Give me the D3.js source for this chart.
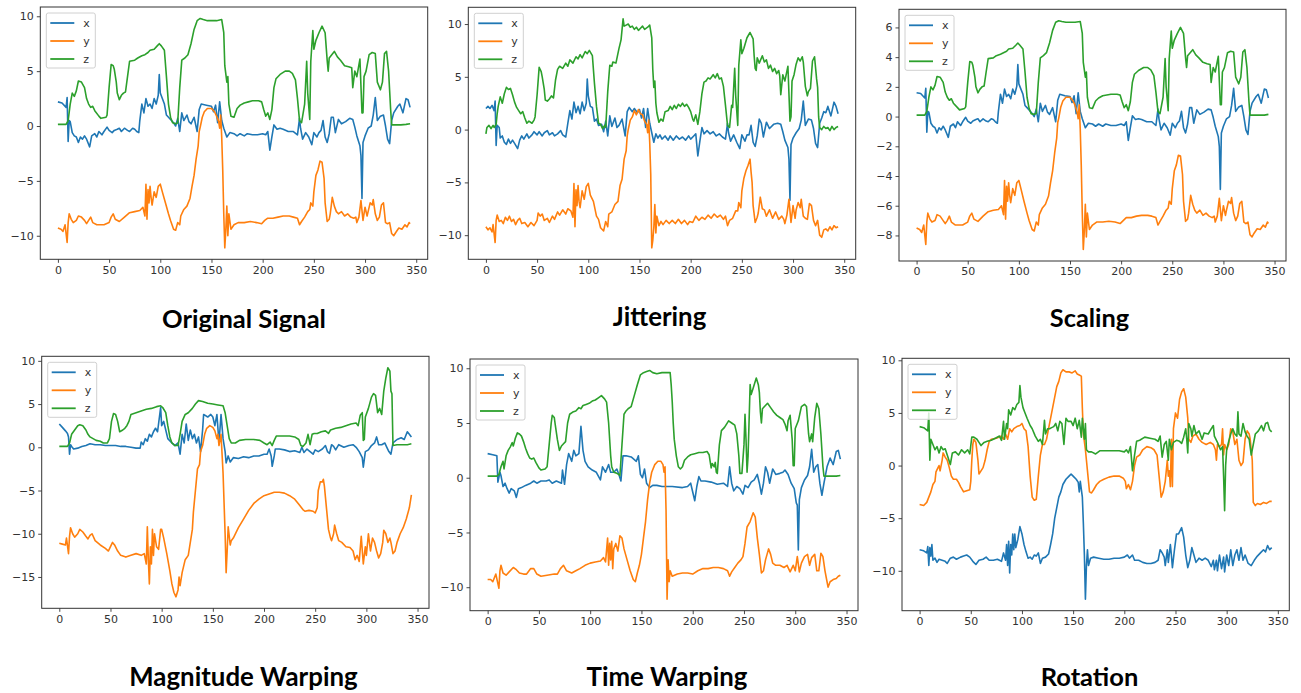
<!DOCTYPE html>
<html>
<head>
<meta charset="utf-8">
<script src="https://cdn.jsdelivr.net/npm/d3@7/dist/d3.min.js"></script>
<style>
  html, body { margin: 0; padding: 0; background: #fff; }
  svg { display: block; }
</style>
</head>
<body>
<div id="chart"></div>
<script>

// Series: [sample index, value] pairs

var seriesNames = [ "x", "y", "z" ];
var panelTitles = [ "Original Signal", "Jittering", "Scaling", "Magnitude Warping", "Time Warping", "Rotation" ];

var xTicks = [ 0, 50, 100, 150, 200, 250, 300, 350 ];
var yTicks = [
    [ -10, -5, 0, 5, 10 ],
    [ -10, -5, 0, 5, 10 ],
    [ -8, -6, -4, -2, 0, 2, 4, 6 ],
    [ -15, -10, -5, 0, 5, 10 ],
    [ -10, -5, 0, 5, 10 ],
    [ -10, -5, 0, 5, 10 ]
];

var origX = [[0,2.2],[4,2.1],[8,1.7],[9,2.6],[10,-1.4],[11,0.5],[12,0.4],[14,-0.6],[16,-0.9],[18,-1.0],[20,-1.5],[22,-1.0],[24,-1.2],[26,-0.9],[28,-1.2],[31,-1.9],[33,-0.9],[36,-0.7],[38,-1.0],[40,-0.5],[43,-0.8],[45,-0.5],[48,-0.1],[50,-0.4],[53,-0.6],[55,-0.4],[58,-0.3],[60,-0.2],[62,-0.5],[65,-0.2],[68,-0.4],[70,-0.5],[73,-0.2],[75,-0.3],[77,-0.5],[79,-0.6],[80,0.5],[82,2.0],[84,1.2],[86,2.5],[88,1.8],[90,2.0],[92,1.6],[94,2.5],[96,2.0],[98,2.8],[99,4.7],[100,3.0],[102,2.5],[104,2.0],[106,1.0],[108,0.8],[110,0.6],[113,0.3],[115,0.0],[117,0.7],[119,-0.5],[121,1.2],[123,0.5],[126,1.0],[128,0.4],[130,0.2],[133,0.8],[136,-0.5],[138,1.5],[140,2.0],[145,1.9],[150,1.8],[152,1.3],[154,1.9],[156,0.3],[158,2.2],[160,0.5],[162,-0.2],[165,-1.0],[168,-0.6],[172,-0.7],[175,-0.9],[178,-0.7],[182,-0.9],[185,-0.7],[190,-0.8],[195,-0.8],[200,-0.7],[203,-0.8],[205,-0.5],[207,-2.2],[209,-1.0],[211,0.1],[214,-0.3],[217,-0.2],[220,-0.3],[225,-0.5],[230,-0.5],[234,-0.8],[236,0.7],[237,-0.2],[239,-1.2],[242,-0.6],[245,-1.0],[248,-1.7],[250,-0.6],[253,-1.0],[255,-0.6],[257,-0.4],[259,0.5],[261,-1.0],[263,-1.5],[265,-0.7],[267,0.8],[269,0.8],[271,-0.6],[274,0.6],[277,0.2],[281,0.4],[285,0.7],[288,0.6],[290,-0.1],[292,-0.9],[295,-1.8],[296,-2.7],[297,-6.6],[298,-1.5],[300,-0.9],[303,-0.2],[306,0.0],[308,1.0],[310,2.6],[312,0.5],[315,0.9],[318,1.0],[320,0.0],[322,-1.2],[324,-1.6],[326,0.5],[328,1.2],[332,1.8],[334,2.0],[337,1.2],[340,2.5],[342,2.4],[344,1.7]];
var origY = [[0,-9.3],[3,-9.4],[5,-9.6],[7,-9.0],[9,-10.6],[10,-8.8],[11,-8.0],[13,-8.5],[15,-8.8],[18,-8.6],[20,-8.2],[23,-8.3],[26,-8.6],[28,-8.9],[30,-8.6],[32,-8.3],[34,-8.8],[38,-9.0],[45,-9.0],[50,-8.8],[52,-8.3],[54,-8.0],[56,-8.5],[60,-8.7],[65,-8.3],[70,-7.9],[75,-7.8],[80,-7.7],[83,-7.4],[85,-8.2],[86,-5.3],[87,-8.5],[88,-5.8],[89,-7.0],[90,-5.5],[91,-6.5],[92,-7.2],[94,-6.0],[96,-6.5],[98,-5.5],[100,-5.3],[102,-6.0],[105,-7.0],[108,-8.0],[110,-8.6],[113,-9.4],[115,-9.5],[117,-8.8],[119,-9.0],[120,-8.2],[123,-7.6],[126,-7.3],[129,-6.6],[131,-5.5],[133,-4.5],[135,-3.0],[137,-1.8],[138,-0.5],[139,-0.1],[141,0.8],[143,1.3],[146,1.6],[150,1.6],[153,1.3],[155,0.9],[157,0.4],[158,-0.2],[159,1.0],[160,-1.0],[161,-4.0],[162,-8.0],[163,-11.1],[164,-9.5],[165,-7.3],[166,-10.0],[167,-8.0],[169,-9.4],[172,-9.0],[176,-8.8],[182,-8.8],[188,-8.7],[194,-8.8],[199,-8.9],[202,-8.6],[205,-8.4],[210,-8.4],[215,-8.3],[220,-8.2],[226,-8.2],[230,-8.3],[234,-8.4],[236,-9.0],[238,-8.7],[241,-8.3],[244,-7.8],[246,-7.6],[247,-7.0],[249,-7.3],[250,-6.0],[252,-4.5],[254,-4.0],[256,-3.2],[258,-3.3],[260,-4.8],[261,-7.0],[263,-8.7],[265,-8.5],[266,-8.0],[268,-6.5],[270,-7.3],[272,-7.8],[274,-8.0],[277,-7.8],[280,-8.2],[283,-8.0],[286,-8.3],[289,-8.4],[291,-8.3],[292,-8.8],[294,-8.3],[296,-6.8],[298,-8.6],[300,-7.4],[302,-8.2],[303,-7.8],[305,-7.0],[307,-7.2],[308,-6.7],[310,-8.0],[312,-8.6],[314,-8.3],[316,-7.2],[318,-7.0],[320,-8.8],[322,-8.9],[324,-8.8],[326,-9.8],[328,-10.0],[330,-9.7],[333,-9.3],[336,-9.4],[339,-9.0],[341,-9.2],[343,-8.8],[344,-8.9]];
var origZ = [[0,0.15],[8,0.15],[10,0.5],[12,2.0],[14,3.0],[16,2.7],[18,3.2],[20,4.1],[23,4.0],[26,3.5],[28,2.5],[30,2.0],[32,1.7],[34,1.8],[36,1.4],[40,0.9],[42,0.7],[47,0.8],[48,1.0],[50,3.5],[52,5.6],[54,5.5],[55,5.2],[57,4.0],[58,3.0],[60,2.4],[62,2.8],[64,3.0],[66,3.1],[68,4.5],[70,5.9],[75,6.0],[78,6.2],[82,6.4],[85,6.5],[88,6.7],[90,6.9],[94,7.0],[97,7.3],[99,7.5],[101,7.3],[104,6.9],[106,4.5],[108,2.0],[110,0.8],[112,0.3],[115,0.2],[117,0.3],[119,3.5],[121,6.0],[124,6.2],[127,6.5],[130,7.5],[133,8.8],[136,9.6],[139,9.8],[142,9.7],[146,9.6],[150,9.6],[155,9.6],[160,9.7],[162,8.5],[163,5.5],[165,4.0],[166,4.5],[167,2.0],[169,0.9],[172,0.8],[175,1.6],[178,1.9],[182,2.1],[186,2.2],[190,2.3],[196,2.3],[199,2.2],[201,1.5],[203,0.9],[205,1.2],[207,0.6],[209,1.5],[211,3.5],[213,4.3],[217,4.7],[222,5.0],[226,5.0],[229,4.8],[232,4.2],[234,2.5],[236,0.5],[238,0.3],[241,2.0],[243,5.9],[244,3.0],[246,0.6],[247,5.9],[249,8.7],[250,7.0],[252,7.8],[255,8.5],[258,9.1],[261,8.5],[263,6.0],[264,5.0],[265,6.2],[270,6.8],[273,6.3],[276,6.0],[280,5.5],[284,5.4],[287,5.3],[288,3.5],[290,5.0],[292,4.5],[295,6.1],[297,1.2],[298,1.2],[299,4.5],[301,5.0],[304,6.5],[307,6.7],[310,6.6],[312,4.0],[315,3.3],[317,4.0],[319,6.6],[321,6.8],[323,5.0],[325,1.5],[326,0.1],[330,0.1],[335,0.1],[340,0.15],[344,0.2]];

var jitX = [[0,2.0],[2,2.2],[4,2.0],[6,2.3],[8,1.8],[9,2.7],[10,-1.5],[11,0.4],[13,0.2],[14,-0.8],[16,-0.6],[18,-1.2],[20,-1.4],[22,-0.9],[24,-1.3],[26,-1.0],[28,-1.3],[31,-1.8],[33,-1.0],[35,-0.6],[37,-0.9],[40,-0.4],[42,-0.8],[45,-0.5],[47,-0.2],[50,-0.5],[52,-0.2],[55,-0.6],[57,-0.3],[60,-0.1],[62,-0.5],[65,-0.3],[67,-0.6],[70,-0.4],[73,-0.1],[75,-0.5],[78,-0.7],[80,0.6],[82,1.8],[84,1.0],[86,2.6],[88,1.6],[90,2.2],[92,1.5],[94,2.6],[96,1.8],[98,2.5],[99,4.8],[100,3.2],[102,2.2],[104,2.1],[106,0.8],[108,1.0],[110,0.4],[113,0.5],[115,-0.2],[117,0.8],[119,-0.6],[121,1.3],[123,0.3],[126,1.1],[128,0.2],[130,0.4],[133,1.0],[136,-0.6],[138,1.7],[140,2.1],[143,1.7],[145,2.0],[148,1.6],[150,1.9],[152,1.1],[154,2.0],[156,0.2],[158,2.0],[160,0.6],[162,-0.3],[164,-1.2],[166,-0.4],[168,-0.8],[170,-0.5],[172,-0.9],[175,-0.6],[178,-1.0],[180,-0.6],[183,-1.0],[186,-0.6],[189,-0.9],[192,-0.7],[195,-1.0],[198,-0.6],[200,-0.9],[203,-0.6],[205,-0.4],[207,-2.5],[209,-1.1],[211,0.2],[213,-0.4],[216,-0.1],[219,-0.4],[222,-0.2],[225,-0.6],[228,-0.4],[231,-0.7],[234,-0.9],[236,0.6],[237,-0.3],[239,-1.1],[242,-0.5],[245,-1.2],[248,-1.8],[250,-0.5],[253,-1.1],[255,-0.5],[257,-0.5],[259,0.4],[261,-1.2],[263,-1.6],[265,-0.6],[267,1.0],[269,0.6],[271,-0.7],[274,0.7],[277,0.1],[281,0.5],[285,0.6],[288,0.5],[290,-0.2],[292,-1.0],[295,-1.7],[296,-2.8],[297,-6.7],[298,-1.4],[300,-0.8],[303,-0.3],[306,0.1],[308,0.9],[310,2.7],[312,0.4],[315,1.0],[318,0.9],[320,0.1],[322,-1.3],[324,-1.7],[326,0.6],[328,1.1],[330,1.7],[332,1.6],[334,2.2],[337,1.3],[340,2.6],[342,2.2],[344,1.5]];
var jitY = [[0,-9.2],[2,-9.5],[4,-9.3],[6,-9.7],[7,-9.0],[9,-10.7],[10,-8.6],[11,-8.1],[13,-8.7],[15,-8.6],[17,-8.9],[19,-8.3],[21,-8.6],[23,-8.2],[25,-8.7],[27,-8.5],[29,-9.0],[31,-8.6],[33,-8.4],[35,-8.9],[38,-8.8],[41,-9.2],[44,-8.8],[47,-9.1],[50,-8.6],[51,-7.9],[53,-8.2],[55,-8.0],[57,-8.6],[60,-8.4],[62,-8.8],[65,-8.2],[67,-8.5],[70,-7.8],[72,-8.1],[75,-7.6],[78,-8.0],[80,-7.5],[83,-7.7],[85,-8.3],[86,-5.1],[87,-9.2],[88,-5.7],[89,-7.2],[90,-5.3],[91,-6.8],[92,-7.4],[94,-5.8],[96,-6.6],[98,-5.4],[100,-5.1],[102,-6.2],[105,-6.8],[108,-8.2],[110,-8.5],[112,-9.3],[115,-9.6],[117,-8.7],[119,-9.2],[120,-8.0],[123,-7.8],[126,-7.1],[129,-6.8],[131,-5.3],[133,-4.7],[135,-2.8],[137,-2.0],[138,-0.6],[139,0.0],[141,0.9],[143,1.2],[145,1.8],[147,1.4],[149,1.9],[151,1.5],[153,1.4],[155,0.8],[157,0.5],[158,-0.3],[159,0.9],[160,-1.2],[161,-4.2],[162,-11.2],[163,-10.5],[164,-9.3],[165,-7.1],[166,-9.8],[167,-8.2],[169,-9.1],[171,-8.7],[173,-9.0],[176,-8.6],[179,-8.9],[182,-8.6],[185,-8.9],[188,-8.5],[191,-8.9],[194,-8.6],[197,-9.0],[199,-8.7],[202,-8.8],[205,-8.2],[208,-8.6],[211,-8.3],[214,-8.5],[217,-8.1],[220,-8.4],[223,-8.0],[226,-8.3],[229,-8.1],[232,-8.5],[234,-8.2],[236,-9.1],[238,-8.6],[241,-8.4],[244,-7.7],[246,-7.7],[247,-6.9],[249,-7.4],[250,-5.8],[252,-4.6],[254,-3.9],[256,-3.4],[258,-2.8],[259,-4.0],[260,-5.0],[261,-7.2],[263,-8.8],[265,-8.3],[266,-7.9],[268,-6.4],[270,-7.5],[272,-7.6],[274,-8.2],[277,-7.6],[280,-8.4],[283,-7.8],[286,-8.5],[289,-8.2],[291,-8.5],[292,-8.9],[294,-8.1],[296,-6.6],[298,-8.8],[300,-7.2],[302,-8.4],[303,-7.6],[305,-6.9],[307,-7.4],[308,-6.6],[310,-8.2],[312,-8.4],[314,-8.5],[316,-7.0],[318,-7.2],[320,-8.6],[322,-9.1],[324,-8.6],[326,-10.0],[328,-10.2],[330,-9.5],[332,-9.4],[334,-9.6],[336,-9.2],[338,-9.5],[340,-9.1],[342,-9.3],[344,-9.2]];
var jitZ = [[0,-0.4],[1,0.2],[3,0.4],[5,0.1],[7,0.4],[8,0.2],[10,0.5],[11,1.5],[12,2.2],[14,3.1],[16,2.5],[18,3.4],[20,4.0],[22,3.8],[24,3.9],[26,3.3],[28,2.6],[30,2.1],[32,1.8],[34,1.5],[36,1.7],[38,1.1],[40,0.6],[42,0.8],[45,0.6],[47,0.9],[48,1.2],[50,3.3],[52,5.9],[54,5.5],[55,5.0],[57,3.8],[58,2.8],[60,2.7],[62,2.9],[64,3.2],[66,3.0],[68,4.7],[70,5.7],[72,6.0],[75,5.8],[78,6.3],[80,6.0],[82,6.6],[85,6.3],[88,6.9],[90,6.7],[92,7.1],[94,6.8],[97,7.4],[99,7.2],[101,7.5],[104,7.0],[106,4.4],[108,2.2],[110,0.6],[112,0.5],[114,0.1],[116,0.4],[117,0.2],[119,3.6],[121,6.1],[123,6.0],[124,6.4],[127,6.3],[130,7.7],[132,8.5],[134,10.5],[135,9.8],[137,9.9],[139,10.0],[141,9.7],[143,9.8],[145,9.5],[147,9.7],[149,9.4],[151,9.6],[153,9.8],[155,9.5],[158,9.7],[160,9.9],[162,8.7],[163,5.7],[164,4.0],[165,4.6],[166,2.5],[167,1.6],[169,0.7],[171,1.0],[173,0.8],[175,1.7],[178,1.8],[180,2.2],[182,1.9],[184,2.3],[186,2.0],[188,2.4],[190,2.2],[192,2.5],[194,2.2],[196,2.4],[198,2.1],[200,1.7],[202,1.0],[203,0.8],[205,1.4],[207,0.5],[209,1.7],[211,3.4],[213,4.5],[215,4.6],[217,4.9],[219,4.8],[222,5.2],[224,4.9],[226,5.3],[228,4.8],[230,4.9],[232,4.1],[234,2.3],[236,0.4],[238,0.2],[240,2.3],[241,2.1],[243,5.8],[244,3.2],[246,0.4],[247,6.1],[249,8.5],[250,7.2],[252,7.7],[255,8.7],[258,9.2],[261,8.6],[262,7.0],[263,5.8],[264,5.6],[265,6.8],[267,6.3],[270,7.0],[272,6.4],[274,6.6],[276,5.8],[278,6.1],[280,5.5],[282,5.8],[284,5.3],[286,5.6],[287,5.1],[288,3.3],[290,5.2],[292,4.6],[295,6.0],[297,0.8],[298,1.2],[299,4.6],[301,5.2],[303,6.2],[305,6.8],[307,6.5],[309,6.9],[310,6.4],[312,4.1],[314,3.2],[315,3.6],[317,3.9],[319,6.5],[321,6.9],[323,4.8],[324,4.0],[325,1.2],[326,0.2],[328,0.0],[330,0.3],[332,0.1],[334,0.2],[336,-0.1],[338,0.3],[340,0.0],[342,0.2],[344,0.3]];

var scaleX = [[0,1.6],[4,1.55],[8,1.25],[9,1.9],[10,-1.05],[11,0.35],[12,0.3],[14,-0.45],[16,-0.65],[18,-0.75],[20,-1.1],[22,-0.75],[24,-0.9],[26,-0.65],[28,-0.9],[31,-1.4],[33,-0.65],[36,-0.5],[38,-0.75],[40,-0.35],[43,-0.6],[45,-0.35],[48,-0.05],[50,-0.3],[53,-0.45],[55,-0.3],[58,-0.2],[60,-0.15],[62,-0.35],[65,-0.15],[68,-0.3],[70,-0.35],[73,-0.15],[75,-0.2],[77,-0.35],[79,-0.45],[80,0.35],[82,1.5],[84,0.9],[86,1.85],[88,1.35],[90,1.5],[92,1.2],[94,1.85],[96,1.5],[98,2.05],[99,3.5],[100,2.2],[102,1.85],[104,1.5],[106,0.75],[108,0.6],[110,0.45],[113,0.2],[115,0.0],[117,0.5],[119,-0.35],[121,0.9],[123,0.35],[126,0.75],[128,0.3],[130,0.15],[133,0.6],[136,-0.35],[138,1.1],[140,1.5],[145,1.4],[150,1.35],[152,0.95],[154,1.4],[156,0.2],[158,1.6],[160,0.35],[162,-0.15],[165,-0.75],[168,-0.45],[172,-0.5],[175,-0.65],[178,-0.5],[182,-0.65],[185,-0.5],[190,-0.6],[195,-0.6],[200,-0.5],[203,-0.6],[205,-0.35],[207,-1.6],[209,-0.75],[211,0.05],[214,-0.2],[217,-0.15],[220,-0.2],[225,-0.35],[230,-0.35],[234,-0.6],[236,0.5],[237,-0.15],[239,-0.9],[242,-0.45],[245,-0.75],[248,-1.25],[250,-0.45],[253,-0.75],[255,-0.45],[257,-0.3],[259,0.35],[261,-0.75],[263,-1.1],[265,-0.5],[267,0.6],[269,0.6],[271,-0.45],[274,0.45],[277,0.15],[281,0.3],[285,0.5],[288,0.45],[290,-0.05],[292,-0.65],[295,-1.35],[296,-2.0],[297,-4.9],[298,-1.1],[300,-0.65],[303,-0.15],[306,0.0],[308,0.75],[310,1.9],[312,0.35],[315,0.65],[318,0.75],[320,0.0],[322,-0.9],[324,-1.2],[326,0.35],[328,0.9],[332,1.35],[334,1.5],[337,0.9],[340,1.85],[342,1.8],[344,1.25]];
var scaleY = [[0,-7.5],[3,-7.6],[5,-7.8],[7,-7.3],[9,-8.6],[10,-7.1],[11,-6.5],[13,-6.9],[15,-7.1],[18,-7.0],[20,-6.6],[23,-6.7],[26,-7.0],[28,-7.2],[30,-7.0],[32,-6.7],[34,-7.1],[38,-7.3],[45,-7.3],[50,-7.1],[52,-6.7],[54,-6.5],[56,-6.9],[60,-7.05],[65,-6.7],[70,-6.4],[75,-6.3],[80,-6.25],[83,-6.0],[85,-6.6],[86,-4.3],[87,-6.9],[88,-4.7],[89,-5.7],[90,-4.45],[91,-5.3],[92,-5.8],[94,-4.85],[96,-5.3],[98,-4.45],[100,-4.3],[102,-4.85],[105,-5.7],[108,-6.5],[110,-7.0],[113,-7.6],[115,-7.7],[117,-7.1],[119,-7.3],[120,-6.6],[123,-6.15],[126,-5.9],[129,-5.35],[131,-4.45],[133,-3.65],[135,-2.45],[137,-1.45],[138,-0.4],[139,-0.1],[141,0.65],[143,1.05],[146,1.3],[150,1.3],[153,1.05],[155,0.75],[157,0.3],[158,-0.15],[159,0.8],[160,-0.8],[161,-3.25],[162,-6.5],[163,-8.95],[164,-7.7],[165,-5.9],[166,-8.1],[167,-6.5],[169,-7.6],[172,-7.3],[176,-7.1],[182,-7.1],[188,-7.05],[194,-7.1],[199,-7.2],[202,-7.0],[205,-6.8],[210,-6.8],[215,-6.7],[220,-6.65],[226,-6.65],[230,-6.7],[234,-6.8],[236,-7.3],[238,-7.05],[241,-6.7],[244,-6.3],[246,-6.15],[247,-5.7],[249,-5.9],[250,-4.85],[252,-3.65],[254,-3.25],[256,-2.6],[258,-2.65],[260,-3.9],[261,-5.7],[263,-7.05],[265,-6.9],[266,-6.5],[268,-5.3],[270,-5.9],[272,-6.3],[274,-6.5],[277,-6.3],[280,-6.65],[283,-6.5],[286,-6.7],[289,-6.8],[291,-6.7],[292,-7.1],[294,-6.7],[296,-5.5],[298,-7.0],[300,-6.0],[302,-6.65],[303,-6.3],[305,-5.7],[307,-5.85],[308,-5.45],[310,-6.5],[312,-7.0],[314,-6.7],[316,-5.85],[318,-5.7],[320,-7.1],[322,-7.2],[324,-7.1],[326,-7.95],[328,-8.1],[330,-7.85],[333,-7.55],[336,-7.6],[339,-7.3],[341,-7.45],[343,-7.1],[344,-7.2]];
var scaleZ = [[0,0.1],[8,0.1],[10,0.35],[12,1.3],[14,2.0],[16,1.8],[18,2.1],[20,2.7],[23,2.65],[26,2.3],[28,1.65],[30,1.3],[32,1.1],[34,1.2],[36,0.9],[40,0.6],[42,0.45],[47,0.55],[48,0.65],[50,2.3],[52,3.7],[54,3.65],[55,3.45],[57,2.65],[58,2.0],[60,1.6],[62,1.85],[64,2.0],[66,2.05],[68,3.0],[70,3.9],[75,3.95],[78,4.1],[82,4.2],[85,4.3],[88,4.4],[90,4.55],[94,4.6],[97,4.8],[99,4.95],[101,4.8],[104,4.55],[106,3.0],[108,1.3],[110,0.55],[112,0.2],[115,0.15],[117,0.2],[119,2.3],[121,3.95],[124,4.1],[127,4.3],[130,4.95],[133,5.8],[136,6.35],[139,6.45],[142,6.4],[146,6.35],[150,6.35],[155,6.35],[160,6.4],[162,5.6],[163,3.65],[165,2.65],[166,3.0],[167,1.3],[169,0.6],[172,0.55],[175,1.05],[178,1.25],[182,1.4],[186,1.45],[190,1.5],[196,1.5],[199,1.45],[201,1.0],[203,0.6],[205,0.8],[207,0.4],[209,1.0],[211,2.3],[213,2.85],[217,3.1],[222,3.3],[226,3.3],[229,3.15],[232,2.75],[234,1.65],[236,0.35],[238,0.2],[241,1.3],[243,3.9],[244,2.0],[246,0.4],[247,3.9],[249,5.75],[250,4.6],[252,5.15],[255,5.6],[258,6.0],[261,5.6],[263,3.95],[264,3.3],[265,4.1],[270,4.5],[273,4.15],[276,3.95],[280,3.65],[284,3.55],[287,3.5],[288,2.3],[290,3.3],[292,3.0],[295,4.05],[297,0.8],[298,0.8],[299,3.0],[301,3.3],[304,4.3],[307,4.4],[310,4.35],[312,2.65],[315,2.2],[317,2.65],[319,4.35],[321,4.5],[323,3.3],[325,1.0],[326,0.1],[330,0.1],[335,0.1],[340,0.1],[344,0.15]];

var magX = [[0,2.7],[3,2.3],[6,1.9],[8,1.6],[9,1.2],[10,-0.8],[11,0.3],[12,0.1],[14,-0.2],[18,-0.1],[22,0.1],[26,0.2],[30,0.4],[35,0.3],[40,0.3],[45,0.2],[50,0.2],[55,0.2],[60,0.1],[65,0.1],[70,0.0],[75,-0.1],[79,-0.1],[80,0.6],[82,0.3],[84,1.0],[86,0.7],[88,1.5],[90,1.2],[92,1.8],[94,2.2],[96,1.8],[99,4.6],[100,2.5],[102,3.0],[104,2.0],[106,1.0],[110,0.5],[113,0.2],[116,0.5],[118,-0.8],[120,1.5],[122,0.5],[124,2.7],[126,0.8],[128,2.0],[130,1.0],[132,1.5],[134,0.5],[136,1.2],[138,-0.5],[140,2.0],[141,3.8],[145,3.5],[148,3.8],[150,3.5],[152,2.5],[154,3.8],[156,0.5],[158,3.8],[160,1.0],[162,-0.5],[163,-1.8],[165,-1.0],[167,-1.7],[170,-1.2],[175,-1.3],[180,-1.1],[185,-1.2],[190,-1.0],[195,-1.0],[200,-0.8],[203,-0.8],[205,-0.2],[207,-1.0],[208,-2.2],[210,-1.0],[211,-0.2],[215,-0.2],[220,-0.3],[225,-0.5],[230,-0.4],[235,-0.6],[237,0.0],[239,-0.6],[242,-0.2],[245,-0.5],[248,-0.8],[250,-0.3],[253,-0.5],[257,-0.2],[260,0.2],[262,-0.5],[264,-0.7],[266,0.3],[268,0.1],[270,-0.3],[273,0.3],[278,0.0],[283,0.2],[287,0.3],[290,0.0],[293,-0.5],[296,-1.2],[297,-2.3],[299,-0.5],[302,-0.3],[305,0.2],[308,0.5],[310,1.2],[312,0.3],[315,0.3],[318,0.5],[320,0.0],[322,-0.5],[324,-0.8],[326,0.5],[330,0.9],[334,1.1],[337,0.9],[340,1.8],[342,1.5],[344,1.2]];
var magY = [[0,-11.1],[3,-11.2],[6,-11.3],[7,-10.5],[9,-12.3],[10,-10.3],[11,-9.3],[13,-10.0],[15,-10.4],[18,-10.0],[20,-9.5],[23,-9.8],[26,-10.3],[28,-10.6],[30,-10.2],[32,-10.0],[35,-10.8],[40,-11.3],[45,-11.7],[48,-12.0],[50,-11.5],[52,-11.0],[54,-11.3],[57,-12.0],[60,-12.5],[65,-12.7],[70,-12.5],[75,-12.3],[80,-12.5],[83,-12.3],[85,-13.5],[86,-9.2],[87,-13.0],[88,-15.8],[89,-11.5],[90,-13.5],[91,-9.5],[92,-12.5],[93,-10.0],[95,-11.5],[97,-11.8],[99,-9.5],[100,-9.5],[102,-10.5],[105,-12.3],[108,-14.3],[110,-15.8],[112,-16.8],[114,-17.3],[116,-16.5],[117,-15.0],[118,-16.0],[120,-14.5],[123,-13.0],[126,-12.5],[128,-11.0],[130,-9.5],[131,-7.5],[133,-5.0],[135,-2.5],[137,-2.0],[138,-0.5],[140,0.2],[142,1.5],[144,2.2],[147,2.5],[150,2.3],[152,1.9],[154,1.0],[155,1.5],[156,0.2],[158,1.5],[160,-3.0],[162,-10.0],[163,-14.5],[164,-12.0],[165,-9.2],[167,-11.3],[168,-10.8],[170,-10.5],[175,-9.3],[180,-8.3],[185,-7.3],[190,-6.5],[195,-6.0],[200,-5.6],[205,-5.4],[210,-5.2],[215,-5.2],[220,-5.3],[225,-5.6],[230,-6.0],[234,-6.6],[238,-7.2],[240,-7.4],[244,-7.3],[248,-7.4],[250,-7.6],[252,-7.0],[253,-5.0],[255,-4.0],[257,-4.0],[258,-3.7],[259,-4.5],[261,-7.0],[263,-9.5],[265,-10.5],[266,-10.8],[268,-10.0],[269,-9.0],[271,-10.0],[273,-10.8],[276,-11.0],[280,-11.5],[284,-11.6],[287,-12.0],[289,-13.0],[291,-12.5],[293,-13.2],[295,-10.3],[297,-13.5],[299,-11.5],[300,-12.5],[302,-10.0],[304,-12.0],[306,-10.5],[308,-11.0],[310,-12.0],[312,-12.8],[314,-12.3],[316,-11.0],[317,-9.6],[319,-10.0],[321,-11.0],[323,-10.5],[324,-11.0],[326,-12.3],[328,-12.0],[330,-11.0],[333,-10.0],[336,-9.3],[339,-8.3],[342,-7.0],[344,-5.5]];
var magZ = [[0,0.1],[8,0.1],[10,0.5],[12,1.5],[15,2.0],[18,2.5],[20,2.6],[23,2.5],[26,2.0],[28,1.5],[30,1.2],[33,1.0],[36,0.8],[40,0.7],[43,0.5],[47,0.5],[49,1.0],[51,3.0],[53,3.9],[55,3.8],[57,3.0],[59,1.8],[62,2.0],[64,2.2],[66,2.5],[68,3.0],[70,3.8],[75,4.0],[80,4.2],[85,4.4],[90,4.5],[95,4.7],[99,4.8],[101,4.6],[104,4.0],[106,2.5],[108,1.2],[110,0.5],[113,0.2],[116,0.2],[118,1.5],[120,3.0],[123,3.8],[126,4.0],[130,4.5],[133,5.0],[136,5.4],[140,5.3],[145,5.1],[150,5.0],[155,4.9],[160,4.8],[162,4.0],[164,2.5],[166,1.0],[168,0.5],[172,0.5],[176,0.8],[182,0.9],[190,0.9],[196,0.8],[200,0.5],[203,0.3],[206,0.6],[208,0.2],[210,0.8],[212,1.3],[218,1.3],[225,1.3],[230,1.2],[234,0.9],[236,0.2],[238,0.1],[241,0.5],[243,1.5],[245,0.3],[247,1.5],[249,1.6],[252,1.6],[256,1.8],[260,1.9],[263,1.6],[265,2.0],[270,2.2],[275,2.3],[280,2.5],[285,2.7],[290,2.8],[292,2.5],[294,3.7],[296,4.0],[297,0.8],[298,0.9],[299,3.5],[302,4.5],[305,5.8],[307,6.2],[309,6.0],[311,4.0],[313,4.5],[315,3.8],[317,6.5],[319,8.0],[321,9.2],[323,8.8],[324,6.5],[325,6.2],[326,0.2],[330,0.3],[335,0.3],[340,0.3],[344,0.4]];

var timeX = [[0,2.2],[5,2.1],[9,2.0],[10,-0.4],[12,0.5],[13,0.2],[15,-0.8],[17,-0.5],[19,-1.0],[21,-1.4],[23,-1.0],[26,-1.2],[28,-1.8],[30,-1.0],[33,-0.9],[37,-0.7],[42,-0.5],[45,-0.3],[48,-0.5],[52,-0.3],[57,-0.3],[60,-0.2],[63,-0.5],[67,-0.3],[72,-0.5],[73,0.7],[75,-0.6],[77,1.2],[79,2.2],[82,1.5],[84,2.5],[86,2.0],[89,2.2],[91,4.7],[93,2.5],[95,1.5],[98,1.0],[102,0.7],[106,0.5],[110,-0.2],[112,1.0],[115,0.5],[118,1.2],[120,0.5],[123,0.5],[126,0.8],[128,0.3],[130,-0.3],[132,2.0],[135,2.0],[140,1.9],[145,1.5],[147,2.0],[149,0.3],[151,0.0],[153,0.8],[155,-0.5],[158,-0.9],[161,-0.7],[165,-0.7],[170,-0.8],[180,-0.8],[190,-0.9],[195,-0.8],[198,-0.5],[200,-1.3],[202,-2.1],[204,-0.8],[206,0.1],[208,-0.3],[212,-0.3],[218,-0.4],[224,-0.6],[230,-0.5],[234,-0.8],[236,1.0],[238,-0.5],[240,-1.2],[243,-0.8],[246,-1.0],[249,-1.5],[251,-0.7],[254,-0.9],[257,-0.4],[260,-0.2],[263,0.3],[265,-0.5],[267,-1.5],[269,-0.5],[271,1.0],[273,0.5],[275,-0.5],[278,0.8],[281,0.3],[285,0.4],[288,0.5],[290,0.7],[293,0.3],[296,-0.5],[299,-1.0],[301,-2.3],[302,-2.5],[303,-6.6],[304,-2.0],[306,-0.9],[309,-0.2],[312,0.2],[314,1.0],[316,2.6],[318,0.5],[320,1.0],[322,1.2],[324,-0.5],[326,-1.6],[328,-0.5],[331,1.0],[334,1.8],[337,1.2],[340,2.4],[342,2.5],[344,1.7]];
var timeY = [[0,-9.3],[3,-9.3],[5,-9.5],[8,-8.8],[11,-10.1],[12,-8.5],[13,-8.0],[15,-8.7],[18,-8.9],[21,-8.6],[25,-8.2],[28,-8.4],[31,-8.7],[35,-8.8],[38,-8.8],[42,-8.3],[45,-8.3],[48,-8.8],[52,-9.0],[58,-8.9],[65,-8.8],[68,-8.8],[71,-8.3],[74,-8.0],[77,-8.5],[82,-8.7],[86,-8.5],[90,-8.3],[95,-8.0],[100,-7.8],[105,-7.7],[110,-7.6],[113,-7.3],[115,-7.7],[117,-5.5],[118,-8.0],[119,-6.0],[120,-7.5],[121,-5.8],[122,-8.3],[123,-6.5],[125,-6.0],[127,-6.7],[129,-5.3],[131,-5.5],[133,-6.5],[136,-7.5],[139,-8.5],[142,-9.3],[144,-9.5],[146,-8.7],[148,-8.0],[150,-7.0],[152,-5.5],[154,-4.0],[156,-2.0],[158,-0.5],[160,0.5],[163,1.2],[166,1.5],[169,1.5],[171,1.2],[172,0.5],[173,1.0],[174,-3.0],[175,-11.1],[176,-7.5],[177,-9.5],[178,-8.5],[180,-9.0],[185,-8.8],[190,-8.7],[195,-8.7],[200,-8.8],[205,-8.5],[210,-8.3],[215,-8.3],[220,-8.2],[225,-8.2],[230,-8.3],[234,-8.5],[236,-9.0],[238,-8.6],[241,-8.2],[244,-7.8],[247,-7.5],[249,-7.2],[251,-6.0],[253,-4.5],[256,-4.0],[259,-3.2],[261,-3.6],[263,-5.5],[265,-7.0],[267,-8.7],[269,-8.5],[271,-7.5],[274,-6.5],[276,-7.0],[278,-7.8],[281,-8.0],[285,-8.0],[289,-8.2],[292,-8.0],[295,-8.6],[298,-8.0],[300,-8.5],[302,-7.2],[304,-8.6],[306,-7.8],[309,-7.2],[312,-7.0],[314,-8.0],[316,-7.3],[319,-7.0],[321,-8.5],[323,-8.5],[325,-6.9],[327,-7.2],[329,-8.5],[331,-9.5],[332,-10.0],[334,-9.5],[337,-9.3],[340,-9.2],[342,-9.0],[344,-8.9]];
var timeZ = [[0,0.15],[9,0.15],[11,0.3],[13,1.0],[15,1.5],[16,0.8],[18,2.0],[20,2.5],[22,2.8],[24,3.2],[25,2.9],[27,3.6],[29,4.1],[31,4.0],[33,3.8],[35,3.3],[37,2.7],[39,2.2],[41,1.8],[43,1.7],[45,1.8],[47,1.4],[50,0.9],[52,0.7],[56,0.8],[58,1.0],[60,3.0],[62,5.0],[63,5.7],[65,5.5],[66,4.8],[68,3.5],[70,2.5],[72,2.9],[74,3.1],[76,3.3],[78,5.0],[80,5.8],[83,6.0],[86,6.1],[89,6.4],[91,6.3],[93,6.6],[96,6.7],[99,6.8],[102,7.0],[105,7.1],[108,7.3],[111,7.5],[114,7.2],[116,6.9],[118,5.0],[120,2.0],[121,1.0],[123,0.5],[126,0.4],[128,0.3],[129,0.2],[131,3.0],[133,5.8],[135,6.1],[137,6.3],[140,6.5],[143,7.5],[146,8.5],[149,9.4],[152,9.6],[155,9.7],[158,9.8],[161,9.6],[165,9.5],[170,9.6],[175,9.6],[178,9.6],[179,8.5],[180,7.0],[181,5.0],[182,3.5],[184,2.0],[186,1.0],[188,0.8],[190,1.0],[192,1.6],[195,1.9],[198,2.1],[202,2.2],[206,2.3],[210,2.3],[214,2.4],[216,2.1],[217,1.5],[218,0.9],[219,1.3],[221,1.0],[222,1.4],[223,0.5],[224,0.4],[226,3.0],[228,4.3],[231,4.6],[235,5.2],[238,5.0],[241,4.8],[243,4.0],[245,2.0],[246,0.4],[248,0.4],[250,3.0],[251,5.8],[252,3.5],[253,0.5],[254,2.0],[256,8.5],[257,7.6],[259,8.2],[262,9.1],[264,8.5],[265,7.8],[266,6.0],[267,5.0],[268,6.3],[270,6.5],[273,6.8],[276,6.4],[279,6.0],[282,5.7],[285,5.5],[288,5.3],[290,4.9],[292,4.3],[293,5.2],[295,5.7],[297,3.5],[298,1.1],[299,1.1],[300,4.5],[303,5.2],[306,6.5],[309,6.7],[311,6.5],[313,4.0],[314,3.3],[316,4.0],[317,3.3],[319,5.5],[321,6.8],[323,6.3],[325,4.0],[327,1.0],[328,0.15],[335,0.15],[340,0.15],[344,0.2]];

var rotX = [[0,-8.0],[4,-8.1],[7,-8.3],[8,-7.7],[9,-9.5],[10,-7.8],[11,-8.6],[12,-7.5],[13,-9.0],[15,-8.8],[17,-9.2],[19,-8.9],[22,-9.0],[25,-9.1],[27,-9.3],[30,-8.8],[33,-8.7],[36,-8.9],[40,-8.7],[43,-8.6],[46,-8.5],[49,-8.7],[52,-9.1],[55,-9.4],[58,-9.0],[62,-8.9],[65,-8.7],[68,-9.0],[72,-9.0],[76,-8.9],[80,-9.1],[82,-8.3],[84,-9.0],[85,-7.5],[86,-9.5],[87,-7.2],[88,-10.2],[89,-7.5],[90,-8.5],[91,-6.5],[92,-8.0],[93,-6.5],[94,-7.8],[96,-7.0],[98,-5.8],[100,-6.5],[102,-7.5],[104,-8.2],[106,-8.8],[108,-8.7],[110,-8.9],[112,-8.5],[114,-8.6],[116,-8.3],[118,-9.3],[120,-8.8],[123,-8.7],[126,-8.4],[128,-7.5],[130,-6.5],[132,-5.0],[134,-4.0],[136,-3.0],[138,-2.5],[140,-1.8],[143,-1.3],[146,-1.0],[148,-0.8],[150,-1.0],[153,-1.3],[155,-1.6],[156,-2.5],[157,-1.5],[159,-3.0],[160,-5.5],[161,-8.5],[162,-12.7],[163,-9.5],[164,-8.0],[165,-9.5],[167,-8.8],[170,-8.7],[175,-8.8],[180,-8.9],[185,-8.9],[190,-8.8],[195,-8.8],[200,-8.7],[203,-8.5],[205,-8.8],[208,-8.5],[210,-9.0],[214,-9.0],[218,-9.2],[222,-9.3],[226,-9.3],[230,-9.2],[233,-9.0],[235,-8.0],[237,-8.3],[239,-8.7],[240,-9.5],[242,-8.0],[243,-9.2],[245,-7.5],[246,-8.5],[247,-9.7],[249,-8.0],[251,-6.5],[253,-6.5],[256,-5.9],[258,-6.8],[260,-8.5],[262,-9.7],[264,-9.0],[266,-7.8],[268,-8.5],[270,-9.2],[273,-8.8],[276,-9.0],[279,-8.8],[282,-9.0],[285,-9.6],[287,-9.0],[288,-9.9],[290,-9.0],[291,-10.0],[293,-8.5],[295,-9.8],[297,-8.7],[298,-10.1],[300,-8.5],[302,-9.5],[304,-8.0],[306,-9.5],[308,-8.5],[310,-8.0],[312,-9.0],[314,-7.8],[316,-9.0],[318,-8.5],[321,-9.3],[324,-9.5],[327,-9.0],[330,-8.6],[333,-8.3],[336,-8.0],[338,-8.2],[340,-7.6],[342,-8.0],[344,-7.8]];
var rotY = [[0,-3.7],[4,-3.8],[7,-3.5],[9,-3.0],[11,-2.5],[13,-1.8],[15,-1.5],[16,-0.6],[18,-0.2],[19,0.0],[20,-0.5],[22,0.5],[23,1.2],[25,0.8],[27,0.5],[29,-0.2],[31,-1.0],[33,-1.3],[36,-1.3],[38,-1.6],[40,-2.0],[43,-2.5],[46,-2.4],[49,-2.3],[50,-1.5],[51,0.5],[52,2.0],[53,2.5],[55,2.2],[57,0.5],[58,-0.8],[60,-0.5],[62,-0.2],[64,0.5],[66,1.5],[68,2.3],[70,2.5],[75,2.6],[80,2.8],[82,2.5],[84,3.0],[86,2.5],[88,3.5],[90,3.2],[92,3.5],[95,3.7],[98,3.8],[100,4.0],[102,3.5],[104,3.3],[106,1.8],[108,-1.0],[110,-3.0],[112,-3.3],[114,-3.2],[116,-1.0],[118,1.0],[120,2.0],[122,2.0],[124,2.5],[126,3.5],[128,4.5],[130,5.5],[132,6.5],[134,7.5],[136,8.0],[138,8.8],[140,9.1],[143,8.9],[146,8.9],[149,8.8],[152,9.0],[154,8.7],[156,8.6],[158,8.5],[159,5.5],[160,3.0],[162,1.5],[163,0.5],[165,-1.5],[166,-2.5],[168,-2.6],[170,-2.3],[173,-1.8],[176,-1.5],[180,-1.3],[185,-1.1],[190,-1.0],[195,-1.0],[199,-1.2],[201,-1.5],[202,-2.2],[204,-1.8],[206,-2.3],[208,-1.5],[210,0.0],[212,0.8],[215,1.0],[218,1.5],[222,1.8],[226,1.7],[229,1.5],[232,1.0],[233,0.0],[235,-2.0],[236,-3.0],[238,-2.5],[240,-1.5],[242,0.5],[243,-1.0],[244,-0.5],[245,-2.0],[246,2.5],[247,-2.0],[248,3.5],[250,5.0],[252,4.5],[254,6.3],[256,7.0],[258,7.3],[260,6.5],[262,4.5],[263,2.5],[265,2.2],[267,2.8],[270,3.0],[273,2.5],[276,2.2],[280,2.0],[284,2.2],[287,2.0],[289,1.5],[290,0.5],[291,2.0],[293,1.8],[295,2.0],[296,3.5],[297,1.0],[298,2.0],[300,1.5],[302,2.0],[304,3.5],[306,3.2],[308,2.0],[310,2.5],[312,0.5],[314,0.0],[316,0.3],[318,2.5],[320,3.3],[322,3.0],[323,2.5],[325,0.5],[326,-3.5],[328,-3.8],[330,-3.6],[333,-3.7],[336,-3.5],[339,-3.6],[342,-3.4],[344,-3.4]];
var rotZ = [[0,3.7],[4,3.6],[8,3.3],[9,5.0],[10,0.5],[11,2.5],[13,2.0],[15,1.5],[17,1.8],[19,1.2],[21,1.8],[23,1.5],[25,1.6],[27,1.0],[30,0.1],[32,1.2],[35,1.3],[38,1.0],[41,1.5],[44,1.2],[47,1.5],[49,1.1],[51,2.7],[53,2.7],[56,2.5],[58,2.2],[60,1.9],[63,2.2],[66,2.3],[70,2.4],[74,2.6],[78,2.8],[80,2.4],[82,4.2],[83,2.5],[85,4.0],[86,3.5],[87,5.3],[89,4.8],[91,5.5],[93,5.3],[95,5.8],[97,6.0],[98,7.6],[99,6.5],[101,5.5],[103,5.0],[105,4.5],[108,3.8],[110,3.5],[113,2.8],[116,2.3],[118,2.5],[120,2.0],[122,4.3],[123,3.0],[125,3.5],[127,3.5],[129,3.6],[131,3.7],[133,4.0],[135,3.3],[137,4.2],[139,4.0],[141,2.0],[143,4.5],[145,4.2],[148,4.2],[150,3.8],[152,4.5],[154,3.5],[156,4.3],[158,2.7],[159,4.5],[160,3.5],[161,2.5],[162,4.0],[163,1.5],[165,1.3],[168,1.3],[172,1.1],[176,1.4],[180,1.4],[185,1.4],[190,1.4],[195,1.4],[200,1.3],[202,1.5],[204,1.2],[206,1.8],[208,-0.5],[210,1.0],[212,2.3],[215,2.4],[220,2.7],[225,2.6],[230,2.5],[233,2.3],[235,2.8],[237,0.8],[239,2.0],[241,2.3],[243,0.5],[244,2.5],[246,1.5],[248,2.2],[251,2.4],[254,2.3],[256,2.1],[258,2.7],[260,3.5],[261,2.5],[262,1.2],[263,4.0],[265,3.5],[266,2.8],[268,3.8],[270,3.0],[273,3.3],[276,2.5],[278,3.1],[282,3.0],[285,3.5],[287,3.8],[288,2.8],[291,2.2],[294,1.5],[296,1.8],[297,-1.0],[298,-4.3],[299,0.0],[300,1.5],[302,2.3],[304,3.0],[306,3.5],[308,3.0],[310,2.8],[311,5.1],[312,3.0],[314,2.8],[316,4.0],[318,3.2],[320,2.8],[322,2.5],[324,1.0],[326,2.0],[328,3.0],[331,3.3],[334,3.8],[336,3.3],[338,4.0],[340,4.1],[342,3.4],[344,3.2]];

var panelSeries = [
    [ origX, origY, origZ ],
    [ jitX, jitY, jitZ ],
    [ scaleX, scaleY, scaleZ ],
    [ magX, magY, magZ ],
    [ timeX, timeY, timeZ ],
    [ rotX, rotY, rotZ ]
];

// Layout: plot frame [left, top, right, bottom], title centre / baseline / width

var frames = [
    [ 40.3, 7, 427.7, 259.3 ],
    [ 468.3, 7.3, 855.7, 259.3 ],
    [ 899, 9.3, 1286, 261 ],
    [ 41.7, 356.3, 429, 608.3 ],
    [ 470, 359, 858, 610.7 ],
    [ 902, 358.3, 1289.3, 610.7 ]
];
var titlePos = [
    [ 244, 328, 164 ],
    [ 659.5, 326, 93.5 ],
    [ 1089.5, 327, 79.5 ],
    [ 243.5, 685.5, 228.5 ],
    [ 667, 685.5, 161 ],
    [ 1089.5, 685.5, 97.5 ]
];

var colors = [ "#1f77b4", "#ff7f0e", "#2ca02c" ];
var fontTick = "'DejaVu Sans', sans-serif";

var svg = d3.select( "#chart" ).append( "svg" )
    .attr( "width", 1301 )
    .attr( "height", 693 );

svg.append( "rect" )
    .attr( "width", 1301 )
    .attr( "height", 693 )
    .style( "fill", "#fff" );

panelSeries.forEach( function ( series, p ) {

    var f = frames[ p ];
    var g = svg.append( "g" );

    var lo = d3.min( series, function ( s ) { return d3.min( s, function ( d ) { return d[1]; } ); } );
    var hi = d3.max( series, function ( s ) { return d3.max( s, function ( d ) { return d[1]; } ); } );
    var pad = ( hi - lo ) * 0.05;

    var x = d3.scaleLinear().domain( [ -17.2, 361.2 ] ).range( [ f[0], f[2] ] );
    var y = d3.scaleLinear().domain( [ lo - pad, hi + pad ] ).range( [ f[3], f[1] ] );

    // Axes

    var xAxis = g.append( "g" )
        .attr( "transform", "translate(0," + f[3] + ")" )
        .call( d3.axisBottom( x ).tickValues( xTicks ).tickSize( 3.5 ).tickPadding( 3 ).tickSizeOuter( 0 ) );

    var yAxis = g.append( "g" )
        .attr( "transform", "translate(" + f[0] + ",0)" )
        .call( d3.axisLeft( y ).tickValues( yTicks[ p ] ).tickSize( 3.5 ).tickPadding( 3 ).tickSizeOuter( 0 ) );

    [ xAxis, yAxis ].forEach( function ( a ) {
        a.select( ".domain" ).remove();
        a.selectAll( "line" ).style( "stroke", "#333" ).style( "stroke-width", 0.9 );
        a.selectAll( "text" )
            .style( "font-family", fontTick )
            .style( "font-size", "11px" )
            .style( "fill", "#333" );
    });

    // Lines

    var line = d3.line()
        .x( function ( d ) { return x( d[0] ); } )
        .y( function ( d ) { return y( d[1] ); } );

    series.forEach( function ( s, i ) {
        g.append( "path" )
            .datum( s )
            .attr( "d", line )
            .style( "fill", "none" )
            .style( "stroke", colors[ i ] )
            .style( "stroke-width", 1.6 )
            .style( "stroke-linejoin", "round" );
    });

    // Frame

    g.append( "rect" )
        .attr( "x", f[0] )
        .attr( "y", f[1] )
        .attr( "width", f[2] - f[0] )
        .attr( "height", f[3] - f[1] )
        .style( "fill", "none" )
        .style( "stroke", "#333" )
        .style( "stroke-width", 1 );

    // Legend

    var lg = g.append( "g" )
        .attr( "transform", "translate(" + ( f[0] + 6 ) + "," + ( f[1] + 6 ) + ")" );

    lg.append( "rect" )
        .attr( "width", 49 )
        .attr( "height", 55 )
        .attr( "rx", 2 )
        .style( "fill", "#fff" )
        .style( "fill-opacity", 0.8 )
        .style( "stroke", "#d0d0d0" )
        .style( "stroke-width", 1 );

    seriesNames.forEach( function ( name, i ) {
        var cy = 10 + i * 18;
        lg.append( "line" )
            .attr( "x1", 4 )
            .attr( "x2", 28 )
            .attr( "y1", cy )
            .attr( "y2", cy )
            .style( "stroke", colors[ i ] )
            .style( "stroke-width", 1.8 );
        lg.append( "text" )
            .attr( "x", 37 )
            .attr( "y", cy + 3.5 )
            .text( name )
            .style( "font-family", fontTick )
            .style( "font-size", "11px" )
            .style( "fill", "#333" );
    });

    // Title

    var t = titlePos[ p ];
    var title = svg.append( "text" )
        .attr( "x", t[0] )
        .attr( "y", t[1] )
        .attr( "text-anchor", "middle" )
        .text( panelTitles[ p ] )
        .style( "font-family", "Lato, 'Open Sans', sans-serif" )
        .style( "font-weight", "bold" )
        .style( "font-size", "25px" )
        .style( "fill", "#000" );

    var w = title.node().getComputedTextLength();
    if ( w > 0 ) title.style( "font-size", ( 25 * t[2] / w ).toFixed( 2 ) + "px" );

});

</script>
</body>
</html>
